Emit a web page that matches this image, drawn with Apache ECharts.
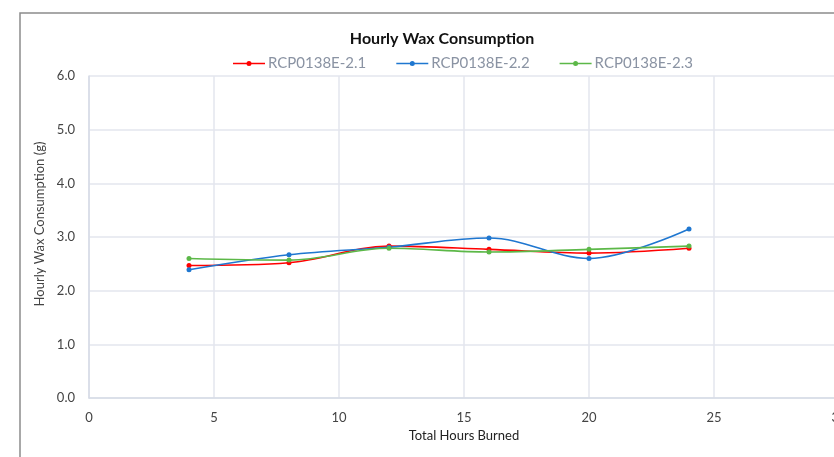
<!DOCTYPE html>
<html>
<head>
<meta charset="utf-8">
<script src="https://cdn.jsdelivr.net/npm/echarts@6/dist/echarts.min.js"></script>
<style>
  html, body { margin: 0; padding: 0; background: #fff; }
  #chart { width: 834px; height: 457px; }
</style>
</head>
<body>
<div id="chart"></div>
<script>
const hours = [4, 8, 12, 16, 20, 24]
const seriesNames = ['RCP0138E-2.1', 'RCP0138E-2.2', 'RCP0138E-2.3']
const wax21 = [2.47, 2.52, 2.83, 2.77, 2.70, 2.79]
const wax22 = [2.39, 2.67, 2.81, 2.98, 2.60, 3.15]
const wax23 = [2.60, 2.57, 2.79, 2.72, 2.77, 2.83]
const colors = ['#ff0000', '#1f77d0', '#5cb848']

const pairs = (ys) => hours.map((h, i) => [h, ys[i]])

// line with a dot in the middle, like the Excel legend key
const legendIcon = 'path://M0,2.8 L32,2.8 L32,4.2 L0,4.2 Z M13.5,3.5 A2.5,2.5 0 1,1 18.5,3.5 A2.5,2.5 0 1,1 13.5,3.5 Z'

function makeSeries(name, ys, color) {
  return {
    name,
    type: 'line',
    data: pairs(ys),
    smooth: 0.35,
    symbol: 'circle',
    symbolSize: 5,
    lineStyle: { width: 1.6, color },
    itemStyle: { color },
  }
}

const chart = echarts.init(document.getElementById('chart'))
const font = 'Lato, "Open Sans", sans-serif'

chart.setOption({
  animation: false,
  textStyle: { fontFamily: font },
  title: {
    text: 'Hourly Wax Consumption',
    left: 437,
    textAlign: 'center',
    top: 26,
    textStyle: { fontSize: 16, fontWeight: 'bold', color: '#111', fontFamily: font },
  },
  legend: {
    top: 51,
    left: 228,
    itemGap: 30,
    itemWidth: 32,
    itemHeight: 7,
    icon: legendIcon,
    itemStyle: { borderWidth: 0 },
    textStyle: { fontSize: 15, color: '#8a93a3', fontFamily: font, padding: [0, 0, 0, -2] },
    data: seriesNames,
  },
  graphic: [
    {
      type: 'rect',
      shape: { x: 20, y: 13, width: 900, height: 600 },
      style: { fill: 'none', stroke: '#8c8c8c', lineWidth: 1.5 },
      silent: true,
    },
  ],
  grid: { left: 89, top: 76, width: 750, height: 322, outerBoundsMode: 'none' },
  xAxis: {
    type: 'value',
    min: 0,
    max: 30,
    interval: 5,
    name: 'Total Hours Burned',
    nameLocation: 'middle',
    nameGap: 30,
    nameTextStyle: { fontSize: 13, color: '#222', fontFamily: font },
    axisLine: { show: true, lineStyle: { color: '#d6dbe6', width: 1.5 } },
    axisTick: { show: false },
    axisLabel: { fontSize: 13, color: '#444', margin: 13, fontFamily: font },
    splitLine: { show: true, lineStyle: { color: '#e3e6ee', width: 1.5 } },
  },
  yAxis: {
    type: 'value',
    min: 0,
    max: 6,
    interval: 1,
    name: 'Hourly Wax Consumption (g)',
    nameLocation: 'middle',
    nameGap: 38,
    nameRotate: 90,
    nameTextStyle: { fontSize: 13, color: '#444', fontFamily: font, padding: [0, 0, 0, 26] },
    axisLine: { show: true, lineStyle: { color: '#d6dbe6', width: 1.5 } },
    axisTick: { show: false },
    axisLabel: {
      fontSize: 13,
      color: '#444',
      margin: 14,
      fontFamily: font,
      formatter: (v) => v.toFixed(1),
    },
    splitLine: { show: true, lineStyle: { color: '#e3e6ee', width: 1.5 } },
  },
  series: [
    makeSeries(seriesNames[0], wax21, colors[0]),
    makeSeries(seriesNames[1], wax22, colors[1]),
    makeSeries(seriesNames[2], wax23, colors[2]),
  ],
})
</script>
</body>
</html>
